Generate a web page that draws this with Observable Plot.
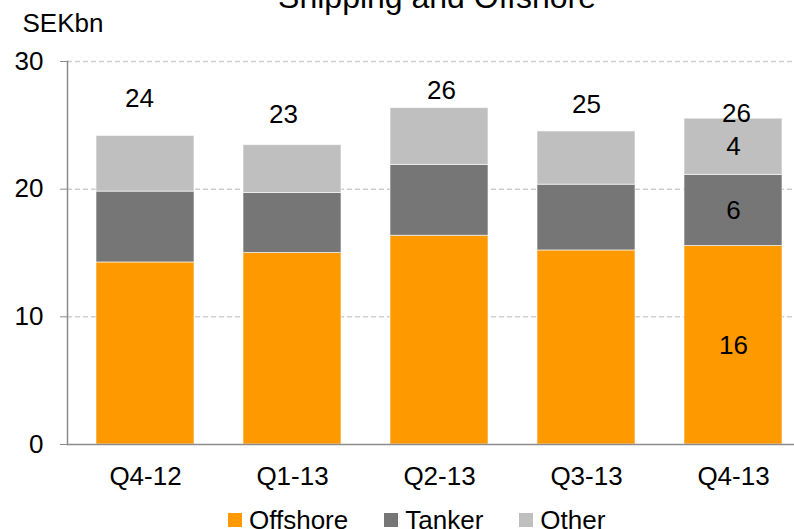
<!DOCTYPE html>
<html>
<head>
<meta charset="utf-8">
<script src="https://cdn.jsdelivr.net/npm/d3@7"></script>
<script src="https://cdn.jsdelivr.net/npm/@observablehq/plot@0.6"></script>
<style>
  html, body { margin: 0; padding: 0; background: white; }
  #wrap { position: relative; width: 794px; height: 529px; overflow: hidden; font-family: "Liberation Sans", Arial, sans-serif; }
  #legend { position: absolute; left: 228px; top: 507px; display: flex; font-size: 26px; line-height: 26px; color: #000; white-space: nowrap; }
  #legend .item { margin-right: 36px; }
  #legend .sw { display: inline-block; width: 14px; height: 14px; vertical-align: 2px; margin-right: 7px; }
</style>
</head>
<body>
<div id="wrap"></div>
<script>
const quarters = ["Q4-12", "Q1-13", "Q2-13", "Q3-13", "Q4-13"];
const series = ["Offshore", "Tanker", "Other"];
const offshore = [14.26, 15.0, 16.35, 15.2, 15.55];
const tanker = [5.55, 4.7, 5.55, 5.15, 5.57];
const other = [4.36, 3.75, 4.45, 4.17, 4.4];
const colors = ["#FF9900", "#767676", "#BFBFBF"];
const titleText = "Shipping and Offshore";
const unitText = "SEKbn";
const yTicks = [0, 10, 20, 30];

const values = [offshore, tanker, other];
const rows = [];
quarters.forEach((q, i) => series.forEach((s, j) => rows.push({quarter: q, series: s, value: values[j][i]})));

const totals = quarters.map((q, i) => ({quarter: q, total: offshore[i] + tanker[i] + other[i]}));

// segment labels only for the last quarter
const lastIdx = quarters.length - 1;
let acc = 0;
const segLabels = series.map((s, j) => {
  const v = values[j][lastIdx];
  const mid = acc + v / 2;
  acc += v;
  return {quarter: quarters[lastIdx], mid, label: String(Math.round(v))};
});

// manual nudges of the total labels (as placed in the original)
const totalDy = [-37, -30, -17, -27, -5];
const totalDx = [-6, -9, 2, 0, 3];

const font = '"Liberation Sans", Arial, sans-serif';
const axisGray = "#8c8c8c";

const chart = Plot.plot({
  width: 794,
  height: 529,
  marginTop: 61,
  marginBottom: 85,
  marginLeft: 67,
  marginRight: 0,
  style: {fontFamily: font, fontSize: "26px", color: "#000", background: "white", overflow: "visible"},
  x: {type: "band", domain: quarters, range: [67, 810], paddingInner: 0.335, paddingOuter: 0.185},
  y: {domain: [0, 30]},
  color: {domain: series, range: colors},
  marks: [
    Plot.gridY({ticks: [10, 20, 30], stroke: "#cfcfcf", strokeOpacity: 1, strokeWidth: 1.5, strokeDasharray: "5,3"}),
    Plot.barY(rows, {x: "quarter", y: "value", fill: "series", stroke: "white", strokeOpacity: 0.6, strokeWidth: 1}),
    Plot.ruleY([0], {stroke: axisGray, strokeWidth: 1.5}),
    Plot.frame({anchor: "left", stroke: axisGray, strokeWidth: 1.5}),
    Plot.axisY({ticks: yTicks, tickSize: 7, tickPadding: 17, fontSize: 26, stroke: axisGray, fill: "#000", label: null, tickFormat: d => String(d)}),
    Plot.axisX({tickSize: 0, tickPadding: 22, fontSize: 26, fill: "#000", label: null}),
    ...totals.map((t, i) => Plot.text([t], {x: "quarter", y: "total", text: d => String(Math.round(d.total)), dy: totalDy[i], dx: totalDx[i], lineAnchor: "middle", fontSize: 26, fill: "#000"})),
    Plot.text(segLabels, {x: "quarter", y: "mid", text: "label", lineAnchor: "middle", fontSize: 26, fill: "#000"}),
    Plot.text([titleText], {frameAnchor: "top", dx: 6, dy: -76, lineAnchor: "top", fontSize: 32, fill: "#000"}),
    Plot.text([unitText], {frameAnchor: "top-left", dx: -45, dy: -47.5, lineAnchor: "top", textAnchor: "start", fontSize: 26, fill: "#000"})
  ]
});

const wrap = document.getElementById("wrap");
wrap.appendChild(chart);

const legend = document.createElement("div");
legend.id = "legend";
series.forEach((s, j) => {
  const item = document.createElement("span");
  item.className = "item";
  const sw = document.createElement("span");
  sw.className = "sw";
  sw.style.background = colors[j];
  item.appendChild(sw);
  item.appendChild(document.createTextNode(s));
  legend.appendChild(item);
});
wrap.appendChild(legend);
</script>
</body>
</html>
